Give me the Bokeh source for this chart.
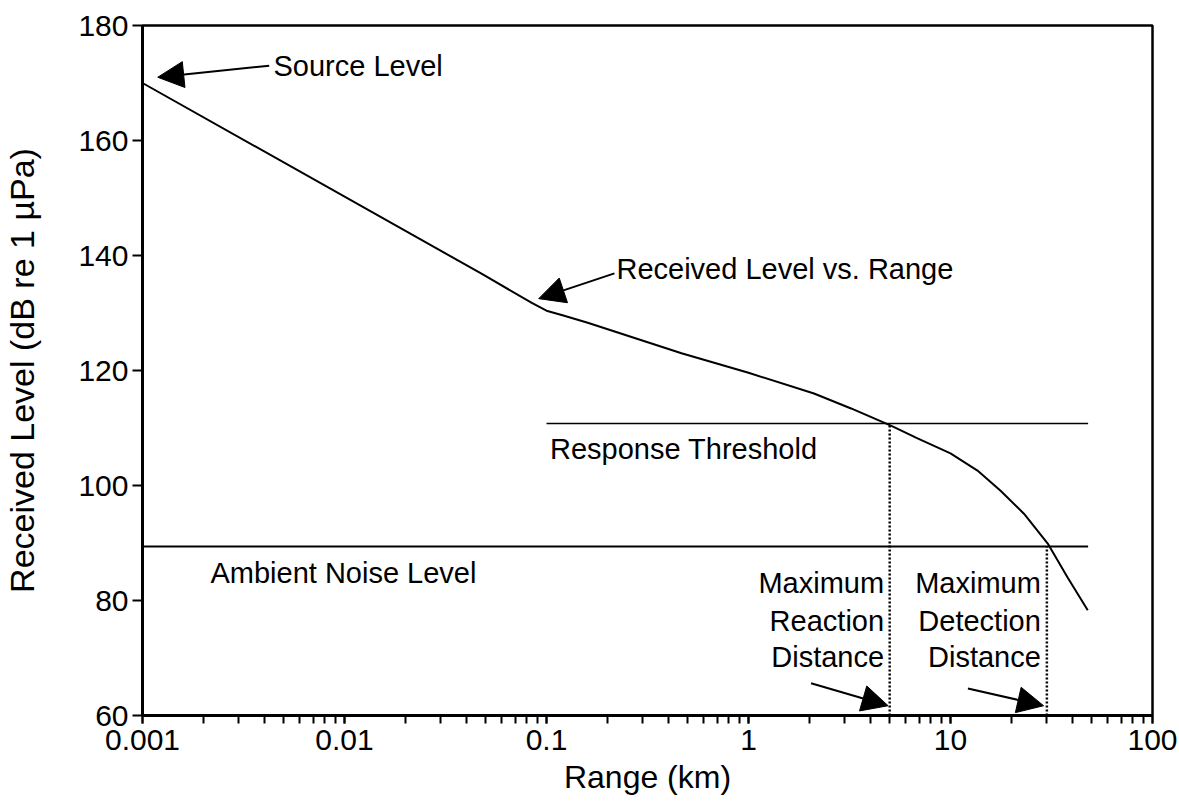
from bokeh.plotting import figure
from bokeh.models import Range1d, Arrow, NormalHead, LogTicker, FixedTicker, CustomJSTickFormatter
from bokeh.core.properties import value
from bokeh.embed import file_html
from bokeh.resources import INLINE

# ---- data ----
range_km = [0.001, 0.0479, 0.085, 0.1, 0.12, 0.16, 0.466, 1.0, 2.11, 3.22, 5.07,
            6.87, 10.0, 13.6, 17.7, 23.1, 30.3, 38.0, 47.8]
level_db = [170.0, 136.8, 131.7, 130.4, 129.6, 128.3, 123.0, 119.6, 116.0, 113.4, 110.4,
            108.2, 105.6, 102.6, 99.1, 95.1, 89.9, 84.0, 78.3]

threshold_db = 110.8
threshold_x = [0.1, 48.0]
noise_db = 89.4
noise_x = [0.001, 48.0]

reaction_km = 5.0
detection_km = 30.0
y_bottom = 60

y_ticks = [60, 80, 100, 120, 140, 160, 180]

FONT = "Liberation Sans"

p = figure(width=1179, height=808, x_axis_type="log",
           x_range=Range1d(0.001, 100), y_range=Range1d(60, 180),
           output_backend="svg", toolbar_location=None,
           min_border_left=140, min_border_right=27, min_border_top=25, min_border_bottom=93)

p.background_fill_color = "white"
p.border_fill_color = "white"
p.outline_line_color = "black"
p.outline_line_width = 2.5
p.xgrid.visible = False
p.ygrid.visible = False

# axes
xa = p.xaxis[0]
xa.ticker = LogTicker(num_minor_ticks=10)
xa.formatter = CustomJSTickFormatter(code="return tick.toString();")
xa.axis_label = "Range (km)"
ya = p.yaxis[0]
ya.ticker = FixedTicker(ticks=y_ticks)
ya.axis_label = "Received Level (dB re 1 \u00b5Pa)"
for ax in (xa, ya):
    ax.axis_line_color = "black"
    ax.axis_line_width = 3
    ax.major_tick_line_color = "black"
    ax.major_tick_line_width = 2
    ax.major_tick_in = 0
    ax.minor_tick_in = 0
    ax.major_label_text_font = FONT
    ax.major_label_text_font_size = "30px"
    ax.major_label_text_color = "black"
    ax.axis_label_text_font = FONT
    ax.axis_label_text_font_style = "normal"
    ax.axis_label_text_color = "black"
xa.axis_label_text_font_size = "32px"
ya.axis_label_text_font_size = "34px"
xa.major_tick_out = 8
xa.minor_tick_out = 8
xa.minor_tick_line_color = "black"
xa.minor_tick_line_width = 2
xa.major_label_standoff = 6
xa.axis_label_standoff = 6
ya.major_tick_out = 10
ya.minor_tick_line_color = None
ya.major_label_standoff = 4
ya.axis_label_standoff = 34

# curve
p.line(range_km, level_db, line_color="black", line_width=2)

# threshold and noise lines
p.line(threshold_x, [threshold_db, threshold_db], line_color="black", line_width=1.5)
p.line(noise_x, [noise_db, noise_db], line_color="black", line_width=2)

# dotted verticals
p.line([reaction_km, reaction_km], [y_bottom, threshold_db], line_color="black",
       line_width=2.5, line_dash="2 2")
p.line([detection_km, detection_km], [y_bottom, noise_db], line_color="black",
       line_width=2.5, line_dash="2 2")

# text labels
def txt(x, y, s, align="left"):
    p.text(x=[x], y=[y], text=[s], text_font=value(FONT), text_font_size="29px",
           text_align=align, text_baseline="middle", text_color="black")

txt(0.00445, 173.0, "Source Level")
txt(0.222, 137.7, "Received Level vs. Range")
txt(0.104, 106.4, "Response Threshold")
txt(0.00217, 84.7, "Ambient Noise Level")
for yy, s in zip([83.0, 76.5, 70.1], ["Maximum", "Reaction", "Distance"]):
    txt(4.69, yy, s, align="right")
for yy, s in zip([83.0, 76.5, 70.1], ["Maximum", "Detection", "Distance"]):
    txt(28.0, yy, s, align="right")

# arrows
def arr(x0, y0, x1, y1):
    p.add_layout(Arrow(end=NormalHead(size=26, fill_color="black", line_color="black"),
                       x_start=x0, y_start=y0, x_end=x1, y_end=y1,
                       line_color="black", line_width=2))

arr(0.00424, 173.0, 0.00119, 171.0)
arr(0.217, 136.9, 0.0915, 132.5)
arr(2.04, 65.6, 4.91, 61.7)
arr(12.2, 64.7, 28.9, 61.7)

open("out.html", "w").write(file_html(p, INLINE))
